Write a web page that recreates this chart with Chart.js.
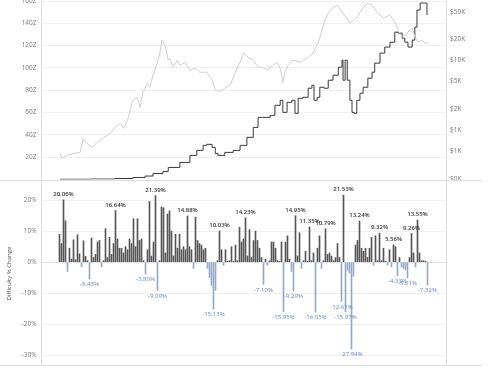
<!DOCTYPE html>
<html>
<head>
<meta charset="utf-8">
<script src="https://cdn.jsdelivr.net/npm/chart.js@4.4.1/dist/chart.umd.min.js"></script>
<style>
  html, body { margin: 0; padding: 0; background: #fff; }
  #wrap { position: relative; width: 500px; height: 368px; overflow: hidden; }
  #topChart { position: absolute; left: 0; top: 0; }
  #bottomChart { position: absolute; left: 0; top: 181px; }
</style>
</head>
<body>
<div id="wrap">
  <canvas id="topChart" width="500" height="181"></canvas>
  <canvas id="bottomChart" width="500" height="187"></canvas>
</div>
<script>
// ==============================
// Data
// ==============================
const priceDates = [2016.03, 2016.07, 2016.16, 2016.28, 2016.41, 2016.47, 2016.54, 2016.64, 2016.73, 2016.84, 2016.98,
  2017.07, 2017.17, 2017.24, 2017.32, 2017.41, 2017.49, 2017.55, 2017.60, 2017.68, 2017.73, 2017.79, 2017.87, 2017.92, 2017.96,
  2018.02, 2018.08, 2018.11, 2018.17, 2018.25, 2018.30, 2018.40, 2018.49, 2018.59, 2018.68, 2018.81, 2018.91, 2018.97,
  2019.06, 2019.15, 2019.25, 2019.34, 2019.44, 2019.51, 2019.59, 2019.69, 2019.78, 2019.87, 2019.97,
  2020.06, 2020.14, 2020.20, 2020.25, 2020.29, 2020.35, 2020.44, 2020.58, 2020.71, 2020.82, 2020.92, 2020.99,
  2021.05, 2021.11, 2021.20, 2021.28, 2021.39, 2021.52, 2021.66, 2021.77, 2021.86, 2021.94,
  2022.03, 2022.15, 2022.28, 2022.38, 2022.43, 2022.51, 2022.60, 2022.70, 2022.75, 2022.81, 2022.89, 2022.94, 2023.00];
const priceValues = [463, 393, 434, 463, 479, 762, 646, 565, 667, 762, 899,
  1096, 1253, 1061, 1479, 2685, 2965, 2128, 3499, 4710, 4127, 6138, 9140, 12735, 19590,
  16600, 10090, 10790, 8000, 10090, 8550, 9440, 7245, 7745, 6780, 6780, 5200, 3733,
  3612, 3990, 4406, 6560, 9440, 12735, 11150, 10090, 8000, 8000, 7245,
  8550, 9440, 7745, 4875, 6780, 8550, 10090, 9440, 10790, 12735, 17740, 27290,
  38000, 47860, 56500, 62400, 47860, 34360, 41980, 56500, 66700, 62400,
  49550, 40550, 44870, 34360, 27290, 21630, 24720, 29170, 21630, 18320, 19590, 17740, 17740];

const diffDates = [2016.03, 2016.60, 2017.07, 2017.41, 2017.64, 2017.79, 2017.98,
  2018.08, 2018.30, 2018.49, 2018.62, 2018.74, 2018.81, 2018.91, 2018.97,
  2019.02, 2019.15, 2019.31, 2019.44, 2019.57, 2019.69, 2019.78, 2019.87,
  2020.01, 2020.10, 2020.20, 2020.25, 2020.33, 2020.42, 2020.48, 2020.54, 2020.63, 2020.73, 2020.80, 2020.84, 2020.90, 2020.95,
  2021.03, 2021.11, 2021.20, 2021.30, 2021.37, 2021.39, 2021.43, 2021.47, 2021.52, 2021.56, 2021.60, 2021.65, 2021.71, 2021.77, 2021.86, 2021.94, 2021.99,
  2022.09, 2022.18, 2022.28, 2022.37, 2022.43, 2022.51, 2022.56, 2022.62, 2022.70, 2022.75, 2022.79, 2022.85, 2022.94, 2022.98];
const diffValues = [0.2, 0.4, 0.9, 1.8, 3.1, 5.4, 7.2,
  10.8, 15.3, 21.6, 26.1, 30.6, 31.5, 28.8, 23.4,
  21.6, 24.3, 26.1, 30.6, 37.8, 46.7, 55.7, 55.7,
  57.5, 66.5, 71.0, 60.2, 69.2, 71.0, 59.3, 72.8, 73.7, 81.8, 84.5, 71.0, 73.7, 82.7,
  81.8, 89.0, 93.5, 100.7, 107.0, 89.0, 107.0, 89.0, 71.0, 60.2, 59.3, 71.0, 77.3, 82.7, 90.8, 96.2, 104.3,
  113.3, 118.7, 123.1, 132.1, 131.2, 126.7, 123.1, 118.7, 124.9, 136.6, 151.9, 158.2, 158.2, 147.4];

// difficulty % change per adjustment, left to right
const pctChange = [
  9, 6, 20.06, 13.3, -3, 4.5, 1, 7.2, 0.8, 8.8, 2.7, -1.5, 6.9, 1.9, 0.5, -5.43, 7.8, 1.5, 2.5, 6.5,
  7.0, -1.5, 0.5, 10.8, 1.5, 8.0, 2.5, 6, 16.64, 7.5,
  4.5, 4.5, 3, 5, 4, 7.5, 6, 14, 5, 14, 7, 7.5, 0.5, -3.80, 4, 19.5, 2, 6.5, 21.39,
  -9.09, 0.5, 17.8, 17.5, 3, 15.5, 16.5, 10, 2, 9, 4.5, 9, 4, 5, 4, 14.88,
  5, 4, -2, 14.5, 7, 6, 5.5, 4, 4.5, -2, -5, -7.5, -15.13, -9, 0.5, 10.03, 4, -1, 4, 0.3,
  0.5, 5, 0.3, 5.5, 0.5, 11.2, 6.5, 7.5, 14.23,
  2, 10.5, 1.5, 7, 10, 7, 4.5, 1.5, -7.10, 1, -1, 0.5, 6.5, 6.5, 4.5, 0.5, 0.3, 6.5, -15.95, 6.5,
  8.5, 1, -3, -9.29, 14.95,
  2, 9.5, -2, 0.5, 3.5, 0.3, 11.35, 0.5, 3, -16.05, 4.5, 8.5, -2, 0.5, 10.79, 2.5, 3, 2, 0.5, 1.5,
  6, 1.5, -12.61, 21.53, -15.97, -2.5, -3.5, -27.94, -4.5, 5.5, 7, 13.24,
  4.5, 3.5, 4.5, 1.5, 4.5, 8, -1, 8.5, 0.5, 9.32, 0.5, 4.5, 0.3, -1, 4, -1.5, 5.56, 5, -4.33, 1.5,
  -1.5, -2, -2.5, -5.01, 1.5, 9.26, 3, -1.5, 13.55, 3, 0.5, 0.5, 0.3, -7.32
];
const labeledChanges = [20.06, 16.64, -5.43, 21.39, -3.80, -9.09, 14.88, -15.13, 10.03, 14.23, -7.10,
  -15.95, -9.29, 14.95, 11.35, -16.05, 10.79, -12.61, 21.53, -15.97, -27.94, 13.24, 9.32, 5.56,
  -4.33, -5.01, 9.26, 13.55, -7.32];

// tick labels
const diffTicks = [20, 40, 60, 80, 100, 120, 140, 160];
const priceTicks = [200, 500, 1000, 2000, 5000, 10000, 20000, 50000];
const pctTicks = [20, 10, 0, -10, -20, -30];

const FONT = '"Open Sans", "DejaVu Sans", sans-serif';
const TICK_COLOR = '#7a7a7a';
const LINE_COLOR = '#dedede';

// ==============================
// Plugins
// ==============================
const topFrame = {
    id: 'topFrame',
    afterDraw(chart) {
        const c = chart.ctx;
        c.save();
        c.strokeStyle = LINE_COLOR;
        c.lineWidth = 1;
        c.beginPath();
        c.moveTo(0, chart.height - 0.5);
        c.lineTo(482, chart.height - 0.5);
        c.stroke();
        c.restore();
    }
};

const bottomFrame = {
    id: 'bottomFrame',
    afterDraw(chart) {
        const c = chart.ctx, a = chart.chartArea;
        c.save();
        c.strokeStyle = LINE_COLOR;
        c.lineWidth = 1;
        c.beginPath();
        c.moveTo(Math.round(a.right) + 0.5, 0);
        c.lineTo(Math.round(a.right) + 0.5, a.bottom);
        c.moveTo(0, Math.round(a.bottom) + 0.5);
        c.lineTo(482, Math.round(a.bottom) + 0.5);
        c.stroke();
        c.restore();
    }
};

const barLabels = {
    id: 'barLabels',
    afterDatasetsDraw(chart) {
        const c = chart.ctx;
        const meta = chart.getDatasetMeta(0);
        c.save();
        c.textAlign = 'center';
        c.textBaseline = 'middle';
        meta.data.forEach((bar, i) => {
            const v = pctChange[i];
            if (!labeledChanges.includes(v)) return;
            const txt = v.toFixed(2) + '%';
            if (v >= 0) {
                c.font = '600 6px ' + FONT;
                c.fillStyle = '#333333';
                c.fillText(txt, bar.x, bar.y - 5.5);
            } else {
                c.font = '6px ' + FONT;
                c.fillStyle = '#5f86c4';
                c.fillText(txt, bar.x, bar.y + 5.5);
            }
        });
        c.restore();
    }
};

// ==============================
// Top chart: difficulty + price
// ==============================
new Chart(document.getElementById('topChart'), {
    type: 'line',
    data: {
        datasets: [
            {
                label: 'Price',
                data: priceDates.map((x, i) => ({ x, y: priceValues[i] })),
                yAxisID: 'yPrice',
                borderColor: '#cfcfcf',
                borderWidth: 1,
                pointRadius: 0,
                tension: 0
            },
            {
                label: 'Difficulty',
                data: diffDates.map((x, i) => ({ x, y: diffValues[i] })),
                yAxisID: 'yDiff',
                borderColor: '#3a3a3a',
                borderWidth: 1,
                pointRadius: 0,
                stepped: true
            }
        ]
    },
    options: {
        responsive: false,
        animation: false,
        layout: { padding: { top: 1, bottom: 1.5, left: 0, right: 0 } },
        plugins: { legend: { display: false }, tooltip: { enabled: false } },
        scales: {
            x: { type: 'linear', min: 2015.67, max: 2023.34, display: false },
            yDiff: {
                position: 'left',
                min: 0, max: 160,
                afterBuildTicks: s => { s.ticks = diffTicks.map(v => ({ value: v })); },
                afterFit: s => { s.width = 41; s.paddingTop = 0; s.paddingBottom = 0; },
                grid: { color: '#f0f0f0', drawTicks: false },
                border: { color: LINE_COLOR },
                ticks: { callback: v => v + 'Z', color: TICK_COLOR, font: { family: FONT, size: 6.5 }, padding: 4.5 }
            },
            yPrice: {
                type: 'logarithmic',
                position: 'right',
                min: 196, max: 71300,
                afterBuildTicks: s => { s.ticks = priceTicks.map(v => ({ value: v })); },
                afterFit: s => { s.width = 54; s.paddingTop = 0; s.paddingBottom = 0; },
                grid: { display: false, drawTicks: false },
                border: { color: LINE_COLOR },
                ticks: { callback: v => '$' + Math.round(v / 1000) + 'K', color: TICK_COLOR, font: { family: FONT, size: 6.5 }, padding: 4 }
            }
        }
    },
    plugins: [topFrame]
});

// ==============================
// Bottom chart: % change bars
// ==============================
new Chart(document.getElementById('bottomChart'), {
    type: 'bar',
    data: {
        datasets: [{
            data: pctChange.map((y, i) => ({ x: i, y })),
            backgroundColor: pctChange.map(v => v < 0 ? '#8fa9d6' : '#555555'),
            barThickness: 1
        }]
    },
    options: {
        responsive: false,
        animation: false,
        layout: { padding: { top: 1, bottom: 3, left: 0, right: 54 } },
        plugins: { legend: { display: false }, tooltip: { enabled: false } },
        scales: {
            x: { type: 'linear', min: -9.25, max: 193.25, offset: false, display: false },
            y: {
                min: -33.05, max: 25.8,
                afterBuildTicks: s => { s.ticks = pctTicks.map(v => ({ value: v })); },
                afterFit: s => { s.width = 41; s.paddingTop = 0; s.paddingBottom = 0; },
                title: { display: true, text: 'Difficulty % Change', color: '#555', font: { family: FONT, size: 6 }, padding: { top: 6, bottom: 0 } },
                grid: { color: ctx => ctx.tick && ctx.tick.value === 0 ? '#e2e2e2' : '#f0f0f0', drawTicks: false },
                border: { color: LINE_COLOR },
                ticks: { callback: v => v + '%', color: TICK_COLOR, font: { family: FONT, size: 6.5 }, padding: 4.5 }
            }
        }
    },
    plugins: [barLabels, bottomFrame]
});
</script>
</body>
</html>
